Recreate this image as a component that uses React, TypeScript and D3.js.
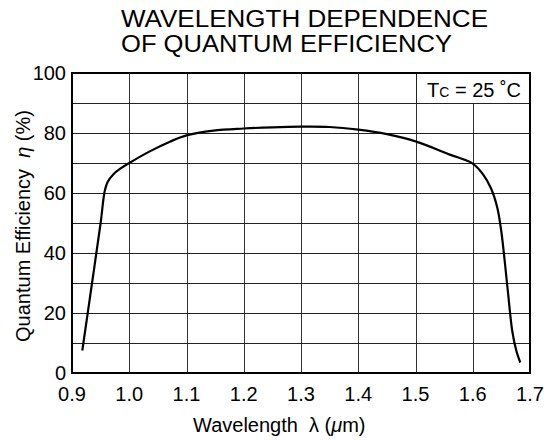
import React from "react";
import * as d3 from "d3";

const titleLines = ["WAVELENGTH DEPENDENCE", "OF QUANTUM EFFICIENCY"];
const xTicks = [0.9, 1.0, 1.1, 1.2, 1.3, 1.4, 1.5, 1.6, 1.7];
const yTicks = [0, 20, 40, 60, 80, 100];
const yGrid = [10, 20, 30, 40, 50, 60, 70, 80, 90];
const wavelength = [
  0.918, 0.935, 0.95, 0.957, 0.962, 0.972, 0.985, 1.0, 1.035, 1.071, 1.1,
  1.147, 1.2, 1.25, 1.3, 1.35, 1.4, 1.45, 1.5, 1.56, 1.6, 1.618, 1.632, 1.643,
  1.65, 1.656, 1.662, 1.669, 1.676, 1.683,
];
const efficiency = [
  7.5, 30, 50, 60.5, 63.6, 66.2, 68.2, 70, 73.8, 77.1, 79.2, 80.8, 81.5, 81.9,
  82.1, 82, 81.1, 79.6, 77.2, 72.8, 69.8, 66.2, 61.5, 55, 47, 37, 26, 14, 7.5, 3.5,
];

const FONT = "'Liberation Sans', Arial, Helvetica, sans-serif";

export default function App() {
  const W = 547;
  const H = 441;
  const left = 72;
  const right = 530;
  const top = 73;
  const bottom = 373;
  const x = d3.scaleLinear().domain([0.9, 1.7]).range([left, right]);
  const y = d3.scaleLinear().domain([0, 100]).range([bottom, top]);
  const pts: [number, number][] = wavelength.map((w, i) => [w, efficiency[i]]);
  const line = d3
    .line<[number, number]>()
    .x((d) => x(d[0]))
    .y((d) => y(d[1]))
    .curve(d3.curveCatmullRom.alpha(0.5));

  return (
    <svg
      width={W}
      height={H}
      style={{ position: "absolute", left: 0, top: 0, background: "#fff" }}
      fontFamily={FONT}
    >
      <rect x={0} y={0} width={W} height={H} fill="#fff" />
      {/* title */}
      <text x={121} y={27} fontSize={23} fill="#000" textLength={367} lengthAdjust="spacingAndGlyphs">
        {titleLines[0]}
      </text>
      <text x={121} y={52} fontSize={23} fill="#000" textLength={331} lengthAdjust="spacingAndGlyphs">
        {titleLines[1]}
      </text>
      {/* grid */}
      {xTicks.slice(1, -1).map((t) => (
        <line
          key={"gx" + t}
          x1={Math.round(x(t)) + 0.5}
          x2={Math.round(x(t)) + 0.5}
          y1={top}
          y2={bottom}
          stroke="#333"
          strokeWidth={1}
        />
      ))}
      {yGrid.map((t) => (
        <line
          key={"gy" + t}
          x1={left}
          x2={right}
          y1={Math.round(y(t)) + 0.5}
          y2={Math.round(y(t)) + 0.5}
          stroke="#222"
          strokeWidth={1}
        />
      ))}
      {/* legend box */}
      <rect
        x={Math.round(x(1.5)) + 0.5}
        y={top}
        width={right - Math.round(x(1.5)) - 0.5}
        height={Math.round(y(90)) + 0.5 - top}
        fill="#fff"
        stroke="#222"
        strokeWidth={1}
      />
      <text x={427} y={97} fontSize={20} fill="#000">
        <tspan>T</tspan>
        <tspan fontSize={14}>C</tspan>
        <tspan> = 25 </tspan>
        <tspan>˚C</tspan>
      </text>
      {/* curve */}
      <path d={line(pts) || ""} fill="none" stroke="#000" strokeWidth={2.2} strokeLinejoin="round" />
      {/* frame */}
      <rect x={left} y={top} width={right - left} height={bottom - top} fill="none" stroke="#000" strokeWidth={2} />
      {/* y tick labels */}
      {yTicks.map((t) => (
        <text key={"yl" + t} x={66} y={y(t) + 7} fontSize={20} textAnchor="end" fill="#000">
          {t}
        </text>
      ))}
      {/* x tick labels */}
      {xTicks.map((t) => (
        <text key={"xl" + t} x={x(t)} y={401} fontSize={20} textAnchor="middle" fill="#000">
          {t.toFixed(1)}
        </text>
      ))}
      {/* axis titles */}
      <text x={193} y={432} fontSize={20} fill="#000">
        Wavelength{"\u00a0\u00a0"}λ (<tspan fontStyle="italic">μ</tspan>m)
      </text>
      <text transform="translate(30,226) rotate(-90)" fontSize={20} textAnchor="middle" fill="#000">
        Quantum Efficiency{"\u00a0\u00a0"}<tspan fontStyle="italic">η</tspan> (%)
      </text>
    </svg>
  );
}
